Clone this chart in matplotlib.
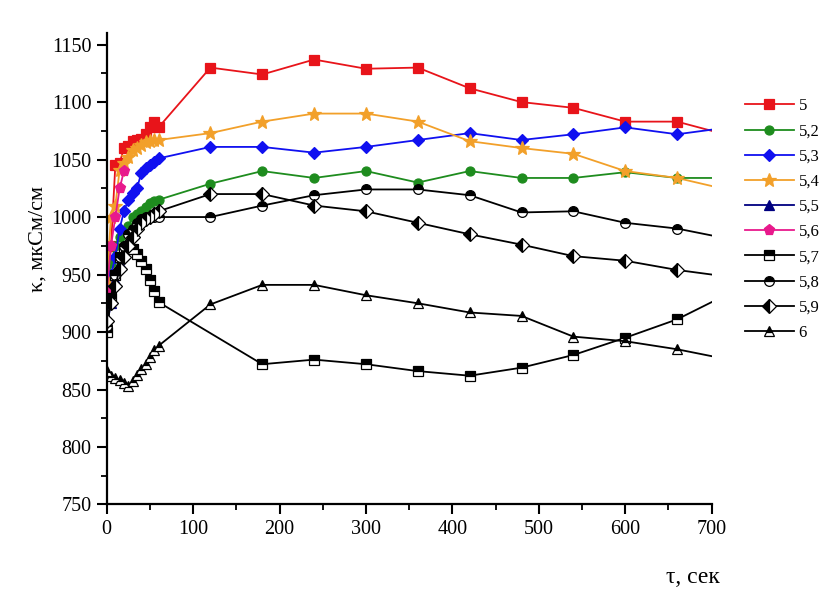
import matplotlib
matplotlib.use("Agg")
import matplotlib.pyplot as plt
from matplotlib.ticker import MultipleLocator

plt.rcParams["font.family"] = ["Liberation Serif", "DejaVu Serif"]

# time points, s
t_main = [0, 5, 10, 15, 20, 25, 30, 35, 40, 45, 50, 55, 60,
          120, 180, 240, 300, 360, 420, 480, 540, 600, 660, 700]
t_short = [0, 5, 10, 15, 20]
t_57 = [0, 5, 10, 15, 20, 25, 30, 35, 40, 45, 50, 55, 60,
        180, 240, 300, 360, 420, 480, 540, 600, 660, 700]

# conductivity, uS/cm
k_50 = [930, 975, 1045, 1047, 1060, 1062, 1066, 1067, 1068, 1072, 1078, 1083, 1078,
        1130, 1124, 1137, 1129, 1130, 1112, 1100, 1095, 1083, 1083, 1075]
k_52 = [935, 960, 975, 983, 988, 992, 1000, 1003, 1005, 1009, 1012, 1014, 1015,
        1029, 1040, 1034, 1040, 1030, 1040, 1034, 1034, 1039, 1034, 1034]
k_53 = [930, 950, 965, 990, 1005, 1015, 1021, 1025, 1038, 1043, 1045, 1048, 1051,
        1061, 1061, 1056, 1061, 1067, 1073, 1067, 1072, 1078, 1072, 1076]
k_54 = [945, 1000, 1010, 1041, 1047, 1052, 1058, 1060, 1063, 1065, 1066, 1067, 1067,
        1073, 1083, 1090, 1090, 1083, 1066, 1060, 1055, 1040, 1034, 1027]
k_55 = [905, 925, 945, 960, 970]
k_56 = [935, 975, 1000, 1025, 1040]
k_57 = [900, 930, 950, 965, 972, 975, 972, 968, 962, 955, 945, 936, 926,
        872, 876, 872, 866, 862, 869, 880, 895, 911, 926]
k_58 = [905, 930, 950, 965, 975, 985, 990, 995, 998, 1000, 1000, 1000, 1000,
        1000, 1010, 1019, 1024, 1024, 1019, 1004, 1005, 995, 990, 984]
k_59 = [910, 925, 940, 955, 965, 975, 983, 990, 995, 998, 1000, 1003, 1005,
        1020, 1020, 1010, 1005, 995, 985, 976, 966, 962, 954, 950]
k_60 = [866, 862, 860, 858, 856, 853, 857, 863, 868, 872, 878, 884, 888,
        924, 941, 941, 932, 925, 917, 914, 896, 892, 885, 879]

labels = ["5", "5,2", "5,3", "5,4", "5,5", "5,6", "5,7", "5,8", "5,9", "6"]

fig = plt.figure(figsize=(8.27, 5.91), dpi=100)
ax = fig.add_axes([0.129, 0.1464, 0.7315, 0.7976])

def last_no_marker(n):
    return list(range(n - 1))

series = [
    (t_main, k_50, dict(color="#E8141A", marker="s", ms=7.5, mfc="#E8141A", mec="#E8141A")),
    (t_main, k_52, dict(color="#1E8C1E", marker="o", ms=6.5, mfc="#1E8C1E", mec="#1E8C1E")),
    (t_main, k_53, dict(color="#1010F0", marker="D", ms=6.5, mfc="#1010F0", mec="#1010F0")),
    (t_main, k_54, dict(color="#F2A02A", marker="*", ms=10.5, mfc="#F2A02A", mec="#F2A02A")),
    (t_short, k_55, dict(color="#000080", marker="^", ms=7, mfc="#000080", mec="#000080")),
    (t_short, k_56, dict(color="#E8198C", marker="p", ms=8, mfc="#E8198C", mec="#E8198C")),
    (t_57, k_57, dict(color="black", marker="s", ms=6.5, mfc="black", mec="black",
                      fillstyle="top", markerfacecoloralt="white")),
    (t_main, k_58, dict(color="black", marker="o", ms=7, mfc="black", mec="black",
                        fillstyle="top", markerfacecoloralt="white")),
    (t_main, k_59, dict(color="black", marker="D", ms=7, mfc="black", mec="black",
                        fillstyle="left", markerfacecoloralt="white")),
    (t_main, k_60, dict(color="black", marker="^", ms=7, mfc="black", mec="black",
                        fillstyle="top", markerfacecoloralt="white")),
]

for (t, k, style), lab in zip(series, labels):
    me = last_no_marker(len(t)) if t[-1] == 700 else None
    ax.plot(t, k, lw=1.3, mew=0.9, markevery=me, label=lab, **style)

ax.set_xlim(0, 700)
ax.set_ylim(750, 1160)
ax.xaxis.set_major_locator(MultipleLocator(100))
ax.xaxis.set_minor_locator(MultipleLocator(50))
ax.yaxis.set_major_locator(MultipleLocator(50))
ax.yaxis.set_minor_locator(MultipleLocator(25))
ax.set_yticks(range(750, 1151, 50))

for s in ("top", "right"):
    ax.spines[s].set_visible(False)
for s in ("left", "bottom"):
    ax.spines[s].set_linewidth(1.6)

ax.tick_params(which="major", direction="out", length=7, width=1.5, labelsize=14.5, pad=4)
ax.tick_params(which="minor", direction="out", length=4, width=1.3)

fig.text(0.046, 0.595, "κ, мкСм/см", rotation=90, ha="center", va="center", fontsize=16)
fig.text(0.838, 0.022, "τ, сек", ha="center", va="center", fontsize=17)

leg = fig.legend(loc="upper left", bbox_to_anchor=(0.893, 0.845), frameon=False,
                 fontsize=12, handlelength=2.9, handletextpad=0.3,
                 labelspacing=0.55, numpoints=1, borderaxespad=0)

fig.savefig("out.png", dpi=100)
